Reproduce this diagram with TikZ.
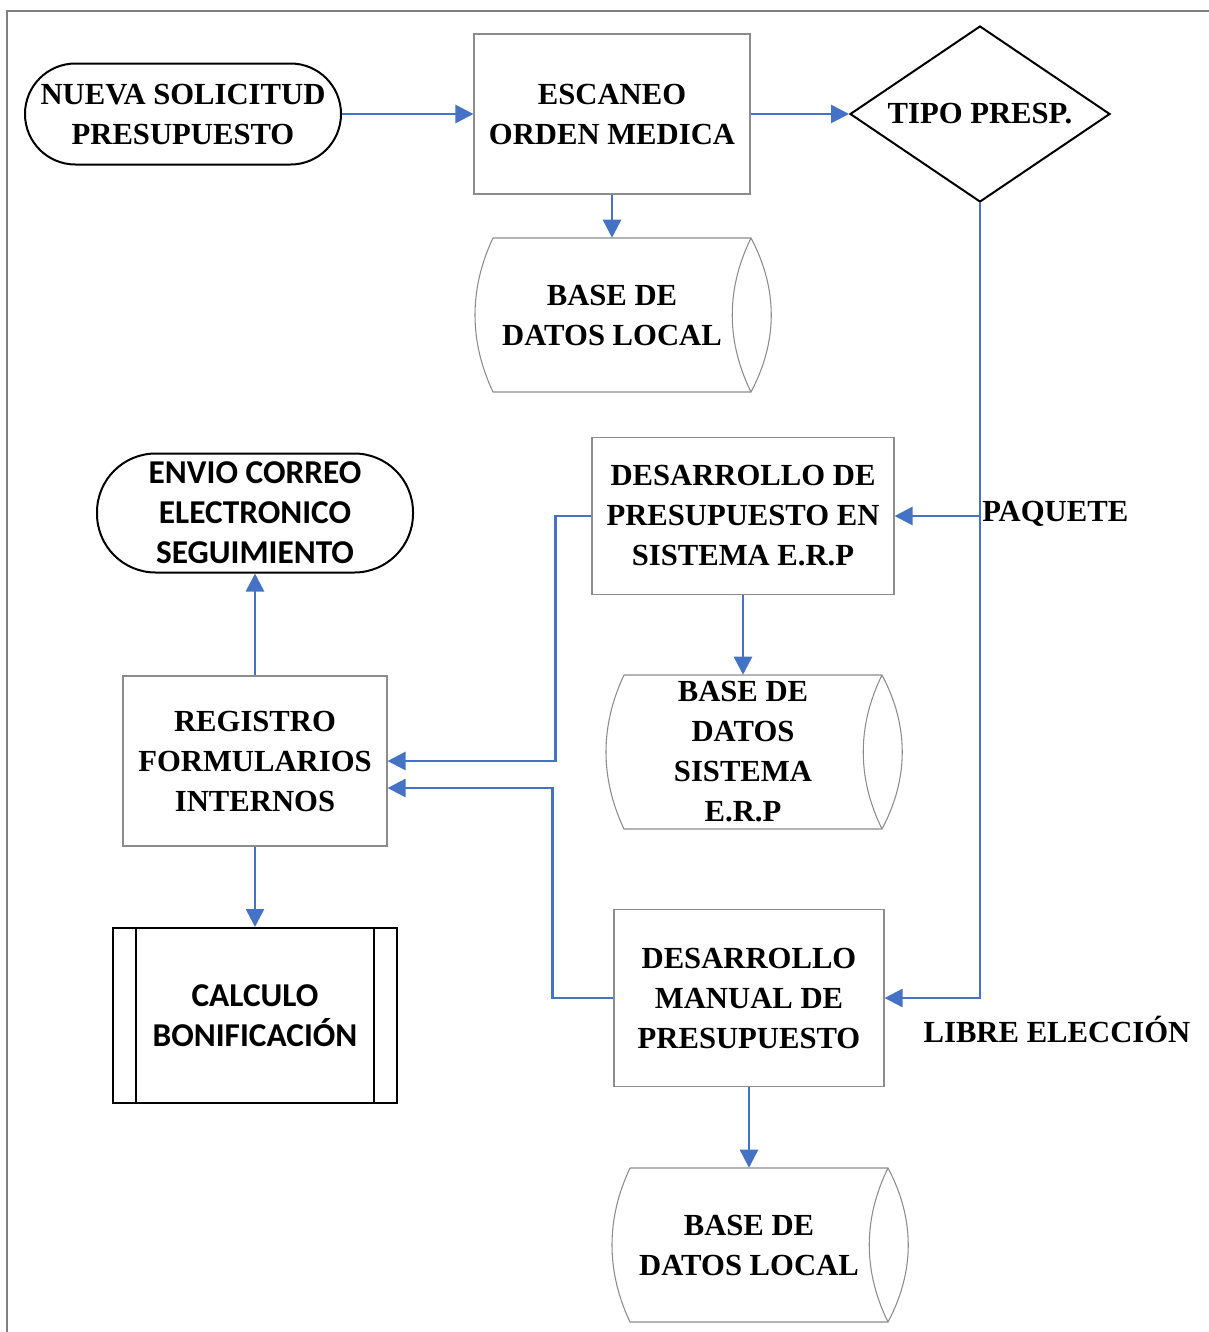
\documentclass[tikz,border=0pt]{standalone}
\usepackage{fontspec}
\setmainfont{Liberation Serif}
\newfontfamily\sansbold{Carlito}
\usetikzlibrary{arrows.meta,shapes.geometric,calc}

\definecolor{flowblue}{RGB}{68,114,196}
\definecolor{boxgray}{RGB}{140,140,140}

\newcommand{\serifbf}{\fontsize{23}{30}\selectfont\bfseries}
\newcommand{\sansbf}{\sansbold\fontsize{25}{30}\selectfont\bfseries}

% drum outline round a named text node
\newcommand{\drumoutline}[1]{%
  \draw[boxgray, line width=0.8pt] ($(#1.center)+(-119,-77)$) -- ++(258,0)
    .. controls +(27,51) and +(27,-51) .. ++(0,154) -- ++(-258,0)
    .. controls +(-24,-51) and +(-24,51) .. ++(0,-154);
  \draw[boxgray, line width=0.8pt] ($(#1.center)+(139,-77)$)
    .. controls +(-25,51) and +(-25,-51) .. ++(0,154);
}

\begin{document}
\begin{tikzpicture}[x=0.75pt,y=0.75pt,yscale=-1,xscale=1,
  flow/.style={draw=flowblue, line width=1.9pt, -{Triangle[length=13.5pt,width=13.5pt]}},
  procbox/.style={draw=boxgray, line width=0.8pt, align=center, inner sep=2pt, font=\serifbf},
  termnode/.style={draw=black, line width=1.5pt, align=center, inner sep=2pt},
  decision/.style={diamond, draw=black, line width=1.5pt, aspect=1.477, inner sep=0pt, font=\serifbf},
  drumtext/.style={align=center, inner sep=0pt, minimum height=115.5pt, font=\serifbf},
  subproc/.style={draw=black, line width=1.5pt, align=center, font=\sansbf},
  edgelabel/.style={inner sep=0.75pt, font=\serifbf}]
\useasboundingbox (0,0) rectangle (1209,1332);

% Frame
\draw[gray, line width=1.2pt] (1209,11) -- (7,11) -- (7,1332);

% Top row
\node[termnode, font=\serifbf, rounded corners=37.8pt, minimum width=237pt, minimum height=75.75pt] (nueva) at (183,114) {NUEVA SOLICITUD\\PRESUPUESTO};
\node[procbox, minimum width=207pt, minimum height=120pt] (escaneo) at (612,114) {ESCANEO\\ORDEN MEDICA};
\node[decision, minimum width=195pt, minimum height=132pt] (tipo) at (980,114) {TIPO PRESP.};
\node[drumtext] (bdlocal) at (612,315) {BASE DE\\DATOS LOCAL};
\drumoutline{bdlocal}

% Right column
\node[procbox, minimum width=226.5pt, minimum height=117.75pt] (erp) at (743,516) {DESARROLLO DE\\PRESUPUESTO EN\\SISTEMA E.R.P};
\node[drumtext] (bderp) at (743,752) {BASE DE\\DATOS\\SISTEMA\\E.R.P};
\drumoutline{bderp}
\node[procbox, minimum width=202.5pt, minimum height=132.75pt] (manual) at (749,998) {DESARROLLO\\MANUAL DE\\PRESUPUESTO};
\node[drumtext] (bdmanual) at (749,1245) {BASE DE\\DATOS LOCAL};
\drumoutline{bdmanual}

% Left column
\node[termnode, font=\sansbf, rounded corners=44pt, minimum width=237pt, minimum height=89.25pt] (envio) at (255,513) {ENVIO CORREO\\ELECTRONICO\\SEGUIMIENTO};
\node[procbox, minimum width=198pt, minimum height=127.5pt] (registro) at (255,761) {REGISTRO\\FORMULARIOS\\INTERNOS};
\node[subproc, minimum width=213pt, minimum height=131.25pt] (calculo) at (255,1015.5) {CALCULO\\BONIFICACIÓN};
\draw[line width=1.5pt] ($(calculo.north west)+(24,0)$) -- ($(calculo.south west)+(24,0)$);
\draw[line width=1.5pt] ($(calculo.north east)+(-24,0)$) -- ($(calculo.south east)+(-24,0)$);

% Text Node
\node[edgelabel, anchor=west] (paquete) at (981,514) {PAQUETE};
\node[edgelabel] (libre) at (1057,1029) {LIBRE ELECCIÓN};

% Connectors
\draw[flow] (nueva.east) -- (escaneo.west);
\draw[flow] (escaneo.east) -- (tipo.west);
\draw[flow] (escaneo.south) -- (bdlocal.north);
\draw[flow] (tipo.south) |- (manual.east);
\coordinate (split) at (tipo.south |- erp.east);
\draw[flow] (split) -- (erp.east);
\draw[flow] (erp.south) -- (bderp.north);
\draw[flow] (manual.south) -- (bdmanual.north);
\draw[flow] (erp.west) -- ++(-36,0) |- (registro.east);
\draw[flow] (manual.west) -- ++(-61,0) |- ($(registro.east)+(0,27)$);
\draw[flow] (registro.north) -- (envio.south);
\draw[flow] (registro.south) -- (calculo.north);

\end{tikzpicture}
\end{document}
